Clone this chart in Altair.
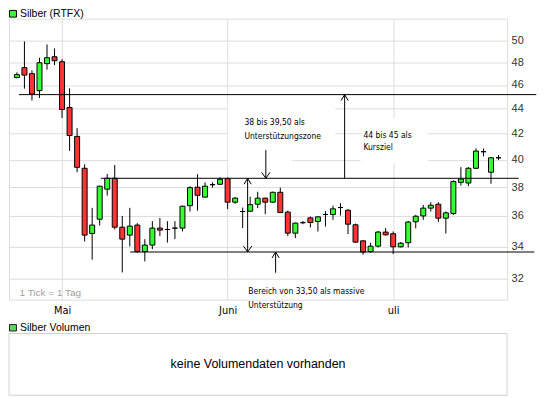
import altair as alt
import pandas as pd

# ---------------- data ----------------
day_index = list(range(65))
opens = [46.64, 47.52, 46.99, 45.52, 47.88, 48.50, 48.05, 44.10, 41.78, 39.36,
         34.84, 35.78, 37.85, 38.63, 35.25, 34.73, 35.39, 33.68, 34.09, 35.19,
         35.10, 35.19, 35.19, 36.70, 37.99, 37.29, 38.17, 38.20, 38.60, 36.94,
         36.30, 36.32, 36.80, 37.22, 36.94, 37.63, 36.26, 34.86, 35.55, 35.87,
         35.63, 36.10, 36.10, 36.57, 36.39, 35.41, 34.36, 33.68, 34.02, 34.93,
         34.82, 33.98, 34.24, 35.61, 36.00, 36.53, 36.80, 35.85, 36.16, 38.34,
         38.29, 39.36, 40.60, 39.07, 40.14]
highs = [47.10, 49.91, 47.28, 48.41, 49.63, 49.26, 48.28, 45.72, 42.43, 39.65,
         36.55, 38.10, 38.94, 39.60, 36.00, 36.55, 35.52, 34.47, 35.65, 35.87,
         35.65, 35.65, 36.70, 38.06, 38.92, 38.34, 38.34, 38.70, 38.70, 37.29,
         36.57, 37.32, 37.67, 37.25, 37.67, 37.96, 36.36, 35.55, 35.67, 35.96,
         35.97, 36.33, 36.70, 36.87, 36.45, 35.49, 34.40, 34.24, 35.01, 35.19,
         34.97, 34.28, 35.67, 36.07, 36.75, 36.94, 36.94, 36.30, 38.49, 39.45,
         39.45, 40.85, 40.85, 40.20, 40.35]
lows = [46.60, 45.69, 44.68, 44.90, 47.34, 47.75, 43.25, 40.67, 39.07, 34.32,
        33.17, 35.36, 37.40, 35.10, 32.39, 34.00, 33.60, 33.06, 33.83, 34.67,
        34.25, 34.47, 34.97, 36.30, 36.36, 37.29, 37.96, 38.15, 36.46, 36.82,
        35.19, 36.30, 36.53, 36.12, 36.90, 36.20, 34.67, 34.54, 35.45, 35.23,
        34.97, 35.30, 35.74, 36.03, 34.80, 34.25, 33.48, 33.60, 33.94, 34.70,
        33.52, 33.94, 33.94, 35.17, 35.74, 36.30, 35.59, 34.84, 36.07, 38.10,
        38.06, 39.30, 40.25, 38.24, 39.98]
closes = [46.90, 46.86, 45.23, 47.96, 48.41, 48.14, 43.94, 41.85, 39.43, 34.73,
          35.39, 38.06, 38.63, 35.25, 34.47, 35.32, 33.68, 34.09, 35.19, 35.06,
          35.10, 35.19, 36.66, 37.96, 37.42, 38.06, 38.17, 38.56, 36.94, 37.22,
          36.30, 36.77, 37.22, 36.94, 37.63, 36.23, 34.86, 35.52, 35.55, 35.56,
          35.94, 36.10, 36.48, 36.57, 35.45, 34.28, 33.65, 34.02, 34.93, 34.75,
          33.98, 34.21, 35.59, 35.98, 36.53, 36.73, 35.85, 36.21, 38.39, 38.58,
          39.36, 40.65, 40.60, 40.14, 40.14]

month_pos = [6, 28, 50]
month_labels = ["Mai", "Juni", "uli"]
price_ticks = [32, 34, 36, 38, 40, 42, 44, 46, 48, 50]

# horizontal support / target lines
hline_price = [45.18, 38.63, 33.65]
hline_from = [0.26, 11.16, 15.05]
hline_to = [69.02, 66.68, 68.76]

# arrow shafts
arrow_x = [30.66, 33.08, 34.38, 43.55]
arrow_from = [33.65, 40.72, 32.37, 38.63]
arrow_to = [38.63, 38.63, 33.65, 45.18]
# arrow heads
head_up_x = [30.66, 34.38, 43.55]
head_up_p = [38.63, 33.65, 45.18]
head_down_x = [30.66, 33.08]
head_down_p = [33.65, 38.63]

# white boxes behind annotation texts
box_x0 = [28.02, 28.02, 45.67]
box_x1 = [42.30, 36.59, 54.62]
box_p0 = [40.95, 39.60, 39.75]
box_p1 = [44.54, 40.95, 43.23]

# annotation texts
note_x = [30.23, 30.23, 46.05, 46.05, 30.75, 30.75]
note_p = [42.93, 41.80, 41.90, 40.93, 31.30, 30.46]
note_text = ["38 bis 39,50 als", "Unterstützungszone", "44 bis 45 als", "Kursziel",
             "Bereich von 33,50 als massive", "Unterstützung"]

tick_note_x = [0.35]
tick_note_p = [31.16]
tick_note_text = ["1 Tick = 1 Tag"]

price_legend = "Silber (RTFX)"
volume_legend = "Silber Volumen"
volume_note = "keine Volumendaten vorhanden"

# ---------------- styling ----------------
GREEN = "#33ff33"
RED = "#ff3333"
GRID = "#dcdcdc"
FRAME = "#d2d2d2"
NARROW = "Liberation Sans Narrow, DejaVu Sans Condensed, Arial Narrow, sans-serif"
SANS = "Liberation Sans, Arial, sans-serif"
W, H = 500, 282

xs = alt.Scale(domain=[-0.389, 64.48], nice=False, zero=False)
ys = alt.Scale(type="log", domain=[30.78, 52.08], nice=False, zero=False)

label_expr = " : ".join(f"datum.value == {p} ? '{l}'" for p, l in zip(month_pos, month_labels)) + " : ''"

x_axis = alt.Axis(values=month_pos, labelExpr=label_expr, grid=True, gridColor=GRID,
                  domain=False, ticks=False, tickSize=0, labelPadding=5, labelFont=NARROW,
                  labelFontSize=11, labelColor="black", title=None, labelAngle=0,
                  labelOverlap=False, labelFlush=False)
y_axis = alt.Axis(values=price_ticks, format="d", orient="right", grid=True, gridColor=GRID,
                  domain=False, ticks=False, tickSize=0, labelPadding=4, labelFont=SANS,
                  labelFontSize=11, labelColor="#333333", title=None, labelOverlap=False,
                  labelFlush=False)


def X(field):
    return alt.X(field, scale=xs, axis=x_axis)


def Y(field):
    return alt.Y(field, scale=ys, axis=y_axis)


candles = pd.DataFrame({"i": day_index, "open": opens, "high": highs, "low": lows, "close": closes})
base = alt.Chart(candles).transform_calculate(
    dir="datum.close > datum.open ? 'up' : (datum.close < datum.open ? 'down' : 'flat')"
)

boxes = alt.Chart(pd.DataFrame({"x0": box_x0, "x1": box_x1, "p0": box_p0, "p1": box_p1})).mark_rect(
    fill="white").encode(x=X("x0:Q"), x2="x1:Q", y=Y("p0:Q"), y2="p1:Q")

wicks = base.mark_rule(color="black", strokeWidth=1).encode(
    x=X("i:Q"), y=Y("low:Q"), y2="high:Q")

bodies = base.mark_bar(size=5, stroke="black", strokeWidth=1).encode(
    x=X("i:Q"), y=Y("open:Q"), y2="close:Q",
    color=alt.Color("dir:N", scale=alt.Scale(domain=["up", "down", "flat"],
                                             range=[GREEN, RED, "black"]), legend=None))

hlines = alt.Chart(pd.DataFrame({"x0": hline_from, "x1": hline_to, "p": hline_price})).mark_rule(
    color="black", strokeWidth=1).encode(x=X("x0:Q"), x2="x1:Q", y=Y("p:Q"))

shafts = alt.Chart(pd.DataFrame({"x": arrow_x, "p0": arrow_from, "p1": arrow_to})).mark_rule(
    color="black", strokeWidth=1).encode(x=X("x:Q"), y=Y("p0:Q"), y2="p1:Q")

heads_up = alt.Chart(pd.DataFrame({"x": head_up_x, "p": head_up_p})).mark_point(
    shape="M -0.6 1 L 0 0 L 0.6 1", size=144, filled=False, stroke="black",
    strokeWidth=1, opacity=1).encode(x=X("x:Q"), y=Y("p:Q"))

heads_down = alt.Chart(pd.DataFrame({"x": head_down_x, "p": head_down_p})).mark_point(
    shape="M -0.7 -1 L 0 0 L 0.7 -1", size=144, filled=False, stroke="black",
    strokeWidth=1, opacity=1).encode(x=X("x:Q"), y=Y("p:Q"))

notes = alt.Chart(pd.DataFrame({"x": note_x, "p": note_p, "t": note_text})).mark_text(
    align="left", baseline="middle", font=NARROW, fontSize=8.5, color="black").encode(
    x=X("x:Q"), y=Y("p:Q"), text="t:N")

tick_note = alt.Chart(pd.DataFrame({"x": tick_note_x, "p": tick_note_p, "t": tick_note_text})).mark_text(
    align="left", baseline="middle", font=SANS, fontSize=10, color="#a0a0a0").encode(
    x=X("x:Q"), y=Y("p:Q"), text="t:N")

one = pd.DataFrame({"t": [price_legend]})
legend_sq = alt.Chart(one).mark_rect(fill=GREEN, stroke="black", strokeWidth=1).encode(
    x=alt.value(0.5), x2=alt.value(7.5), y=alt.value(-8.3), y2=alt.value(-1.6))
legend_txt = alt.Chart(one).mark_text(align="left", baseline="middle", font=SANS,
                                      fontSize=10.5, color="black").encode(
    x=alt.value(11), y=alt.value(-4.8), text="t:N")

two = pd.DataFrame({"t": [volume_legend]})
vol_sq = alt.Chart(two).mark_rect(fill="#5fd35f", stroke="#222222", strokeWidth=1).encode(
    x=alt.value(0.5), x2=alt.value(7.5), y=alt.value(307), y2=alt.value(313.5))
vol_txt = alt.Chart(two).mark_text(align="left", baseline="middle", font=SANS,
                                   fontSize=10.5, color="black").encode(
    x=alt.value(11), y=alt.value(310.3), text="t:N")

three = pd.DataFrame({"t": [volume_note]})
vol_box = alt.Chart(three).mark_rect(fill="white", stroke=FRAME, strokeWidth=1).encode(
    x=alt.value(0), x2=alt.value(W), y=alt.value(316), y2=alt.value(378))
vol_note = alt.Chart(three).mark_text(align="center", baseline="middle", font=SANS,
                                      fontSize=12.5, color="black").encode(
    x=alt.value(W / 2), y=alt.value(346.5), text="t:N")

chart = alt.layer(
    boxes, wicks, bodies, hlines, shafts, heads_up, heads_down, notes, tick_note,
    legend_sq, legend_txt, vol_box, vol_sq, vol_txt, vol_note
).properties(width=W, height=H, padding=0).configure_view(
    stroke=FRAME, strokeWidth=1).configure(background="white")

chart.save("out.html", embed_options={"renderer": "svg", "actions": False})
